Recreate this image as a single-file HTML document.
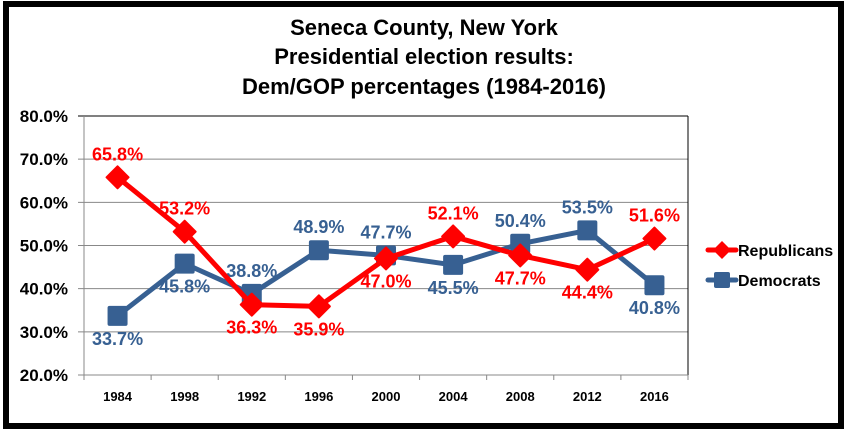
<!DOCTYPE html>
<html><head><meta charset="utf-8"><style>
html,body{margin:0;padding:0;background:#fff;}
svg{display:block;font-family:"Liberation Sans",Arial,sans-serif;}
</style></head><body>
<svg id="chart" width="849" height="434">
<rect x="0" y="0" width="849" height="434" fill="#fff"/>
<rect x="6" y="4" width="835" height="422" fill="#fff" stroke="#000" stroke-width="6"/>
<g font-weight="bold" font-size="22" text-anchor="middle" fill="#000">
<text x="424" y="35">Seneca County, New York</text>
<text x="424" y="64">Presidential election results:</text>
<text x="424" y="94">Dem/GOP percentages (1984-2016)</text>
</g>
<g id="grid"></g><g id="axes"></g><g id="series"></g><g id="legend"></g>
</svg>
<script>
const categories=["1984","1998","1992","1996","2000","2004","2008","2012","2016"];
const repValues=[65.8,53.2,36.3,35.9,47.0,52.1,47.7,44.4,51.6];
const demValues=[33.7,45.8,38.8,48.9,47.7,45.5,50.4,53.5,40.8];
const yTicks=[20,30,40,50,60,70,80];
const NS="http://www.w3.org/2000/svg";
const L=84,R=688,T=116,B=375,yMin=20,yMax=80;
const step=(R-L)/categories.length;
const x=i=>L+step*(i+0.5);
const y=v=>B-(v-yMin)/(yMax-yMin)*(B-T);
function mk(tag,attrs,parent,txt){const e=document.createElementNS(NS,tag);for(const k in attrs)e.setAttribute(k,attrs[k]);if(txt!==undefined)e.textContent=txt;parent.appendChild(e);return e;}
const grid=document.getElementById('grid'),axes=document.getElementById('axes'),series=document.getElementById('series'),legend=document.getElementById('legend');
yTicks.forEach(t=>{
 const g=mk('line',{x1:L-6,x2:R,y1:y(t),y2:y(t),stroke:t===80?'#000':'#888','stroke-width':1},grid);
 
 
 const lb=mk('text',{x:L-16,y:y(t)+6,'text-anchor':'end','font-size':17,'font-weight':'bold',fill:'#000'},axes,t.toFixed(1)+'%');
 
 
});
mk('line',{x1:L,x2:L,y1:T,y2:B,stroke:'#888'},axes);
mk('line',{x1:R,x2:R,y1:T,y2:B+5,stroke:'#000'},axes);
mk('line',{x1:L,x2:R,y1:B,y2:B,stroke:'#888'},axes);
for(let i=0;i<=categories.length;i++){mk('line',{x1:L+step*i,x2:L+step*i,y1:B,y2:B+5,stroke:'#888'},axes);}
categories.forEach((c,i)=>{
 const t=mk('text',{x:x(i),y:B+26,'text-anchor':'middle','font-size':13,'font-weight':'bold',fill:'#000'},axes,c);
 
 
});
function drawSeries(vals,color,shape,labelAbove,name){
 const pl=mk('polyline',{points:vals.map((v,i)=>x(i)+','+y(v)).join(' '),fill:'none',stroke:color,'stroke-width':5,'stroke-linejoin':'round'},series);
 
 
 vals.forEach((v,i)=>{
  let m;
  if(shape==='diamond'){m=mk('polygon',{points:`${x(i)},${y(v)-11} ${x(i)+11},${y(v)} ${x(i)},${y(v)+11} ${x(i)-11},${y(v)}`,fill:color,'stroke-linejoin':'round',stroke:color,'stroke-width':2},series);}
  else{m=mk('rect',{x:x(i)-10,y:y(v)-10,width:20,height:20,rx:2,fill:color},series);}
  
  
  const above=labelAbove[i];
  const lb=mk('text',{x:x(i),y:above?y(v)-17:y(v)+29,'text-anchor':'middle','font-size':18,'font-weight':'bold',fill:color},series,v.toFixed(1)+'%');
  
  
 });
}
drawSeries(demValues,'#376092','square',[false,false,true,true,true,false,true,true,false],'democrats');
drawSeries(repValues,'#ff0000','diamond',[true,true,false,false,false,true,false,false,true],'republicans');
function legendEntry(yy,color,shape,label,name){
 const g=mk('g',{},legend);
 
 
 mk('line',{x1:708,x2:736,y1:yy,y2:yy,stroke:color,'stroke-width':5,'stroke-linecap':'round'},g);
 if(shape==='diamond')mk('polygon',{points:`722,${yy-9} 731,${yy} 722,${yy+9} 713,${yy}`,fill:color},g);
 else mk('rect',{x:714,y:yy-8,width:16,height:16,rx:2,fill:color},g);
 mk('text',{x:738,y:yy+6,'font-size':16,'font-weight':'bold',fill:'#000'},g,label);
}
legendEntry(250,'#ff0000','diamond','Republicans','republicans');
legendEntry(280,'#376092','square','Democrats','democrats');
</script>
</body></html>
